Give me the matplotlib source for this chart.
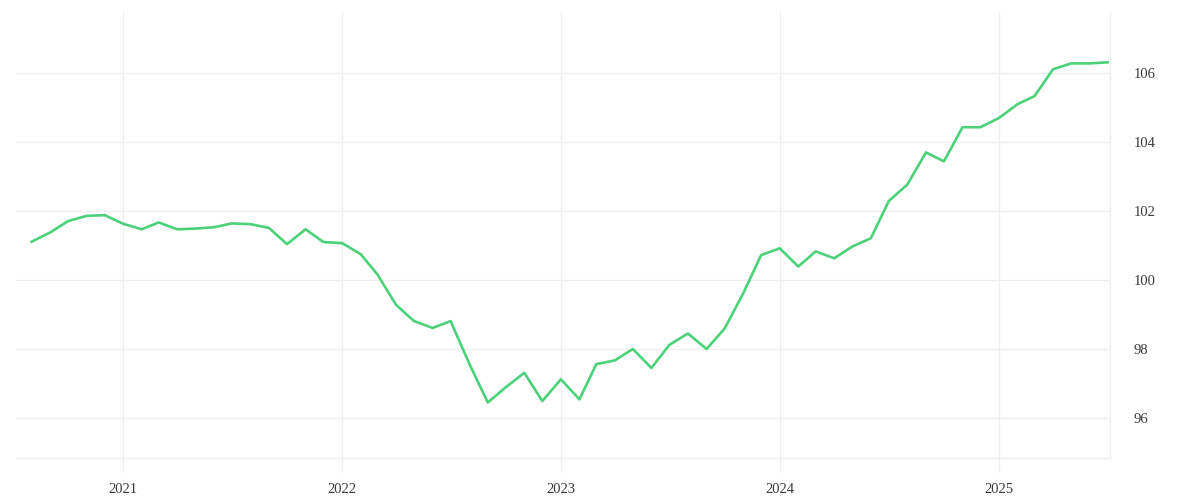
import matplotlib
matplotlib.use("Agg")
import matplotlib.pyplot as plt
import pandas as pd

dates = pd.date_range("2020-08-01", periods=60, freq="MS")
values = [
    101.11, 101.38, 101.71, 101.86, 101.88, 101.63, 101.47, 101.67, 101.47, 101.49,
    101.53, 101.64, 101.62, 101.51, 101.04, 101.47, 101.10, 101.07, 100.75, 100.16,
    99.28, 98.81, 98.61, 98.81, 97.58, 96.45, 96.89, 97.31, 96.49, 97.12,
    96.54, 97.56, 97.67, 98.00, 97.45, 98.12, 98.45, 98.00, 98.59, 99.61,
    100.72, 100.92, 100.39, 100.83, 100.63, 100.97, 101.21, 102.29, 102.77, 103.70,
    103.44, 104.43, 104.43, 104.70, 105.10, 105.33, 106.11, 106.28, 106.28, 106.31,
]
y_ticks = [96, 98, 100, 102, 104, 106]
x_tick_years = [2021, 2022, 2023, 2024, 2025]

grid_color = "#eeeeee"
text_color = "#3a3a3a"
line_color = "#4cd17b"

plt.rcParams["font.family"] = ["Liberation Serif", "DejaVu Serif"]

fig = plt.figure(figsize=(12, 5), dpi=100)
ax = fig.add_axes([16 / 1200, 42 / 500, (1110 - 16) / 1200, (458 - 12) / 500])

ax.plot(dates, values, color=line_color, linewidth=1.9, zorder=3)

ax.set_xlim(pd.Timestamp("2020-07-06"), pd.Timestamp("2025-07-05"))
ax.set_ylim(94.84, 107.77)

ax.set_xticks([pd.Timestamp(f"{y}-01-01") for y in x_tick_years])
ax.set_xticklabels([str(y) for y in x_tick_years])
ax.set_yticks(y_ticks)
ax.set_yticklabels([str(v) for v in y_ticks])

ax.yaxis.tick_right()
ax.grid(True, color=grid_color, linewidth=0.9)
ax.set_axisbelow(True)

for s in ["left", "top"]:
    ax.spines[s].set_visible(False)
for s in ["bottom", "right"]:
    ax.spines[s].set_color(grid_color)
    ax.spines[s].set_linewidth(0.9)

ax.tick_params(axis="x", length=10, width=0.9, color=grid_color, pad=8,
               labelsize=10.5, labelcolor=text_color)
ax.tick_params(axis="y", length=0, pad=17, labelsize=10.5, labelcolor=text_color)
for lbl in ax.get_yticklabels():
    lbl.set_horizontalalignment("left")

fig.savefig("out.png", dpi=100, facecolor="white")
